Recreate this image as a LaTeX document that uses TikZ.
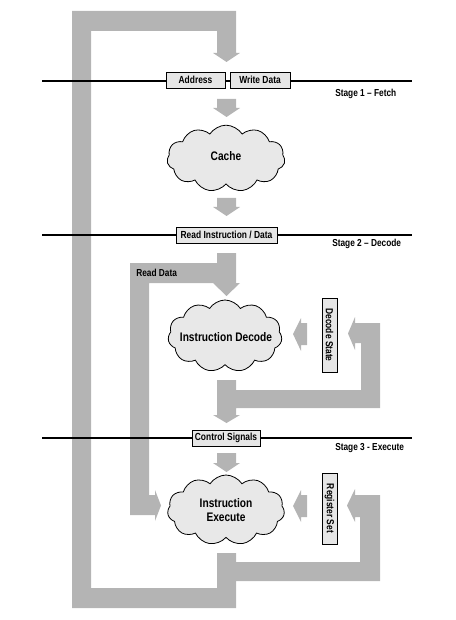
\documentclass[tikz,border=0pt]{standalone}
\usepackage{fontspec}
\newfontfamily\nar{Liberation Sans}[FakeStretch=0.82]
\usetikzlibrary{shapes.symbols}
\definecolor{bandgray}{RGB}{180,180,180}
\definecolor{boxfill}{RGB}{230,230,230}
\definecolor{cloudfill}{RGB}{232,232,232}
\begin{document}
\begin{tikzpicture}[x=0.75pt,y=-0.75pt,
  band/.style={fill=bandgray,draw=none},
  stageline/.style={line width=1.5pt,black},
  lbl/.style={draw=black,fill=boxfill,line width=0.6pt,inner sep=0pt,
    minimum height=12pt,font=\nar\bfseries\fontsize{7.7}{9}\selectfont},
  vlbl/.style={lbl,rotate=-90,minimum height=11.25pt},
  stagetxt/.style={anchor=west,inner sep=0pt,font=\nar\bfseries\fontsize{7.6}{9}\selectfont},
  cloudnode/.style={cloud,cloud puffs=11,cloud puff arc=115,cloud ignores aspect,
    draw=black,line width=0.6pt,fill=cloudfill,inner sep=0pt},
  cloudtxt/.style={inner sep=0pt,align=center,font=\nar\bfseries\fontsize{9.3}{10}\selectfont}]
\path[use as bounding box] (0,0) rectangle (456,620);

% outer loop (execute -> fetch)
\fill[band] (72,11) -- (236,11) -- (236,53) -- (240,53) -- (226.5,62) -- (213,53) -- (217,53)
  -- (217,31) -- (91,31) -- (91,588) -- (217,588) -- (217,553) -- (236,553) -- (236,608)
  -- (72,608) -- cycle;
% small down arrows
\fill[band] (217,99) -- (236,99) -- (236,108) -- (240,108) -- (226.5,117) -- (213,108) -- (217,108) -- cycle;
\fill[band] (217,198) -- (236,198) -- (236,207) -- (240,207) -- (226.5,216) -- (213,207) -- (217,207) -- cycle;
\fill[band] (217,453) -- (236,453) -- (236,463) -- (240,463) -- (226.5,472) -- (213,463) -- (217,463) -- cycle;
% read data band
\fill[band] (130,263) -- (217,263) -- (217,253) -- (236,253) -- (236,283) -- (240,283)
  -- (226.5,296) -- (213,283) -- (149,283) -- (149,495) -- (155,495) -- (155,490)
  -- (161,505.5) -- (155,521) -- (155,515) -- (130,515) -- cycle;
% decode loop
\fill[band] (217,380) -- (236,380) -- (236,390) -- (361,390) -- (361,343) -- (355,343)
  -- (355,350) -- (348,333.5) -- (355,317) -- (355,323) -- (380,323) -- (380,408)
  -- (236,408) -- (236,415) -- (240,415) -- (226.5,423) -- (213,415) -- (217,415) -- cycle;
% execute loop
\fill[band] (236,562) -- (360,562) -- (360,517) -- (355,517) -- (355,522) -- (347,505.5)
  -- (355,489) -- (355,495) -- (380,495) -- (380,581) -- (236,581) -- cycle;
% state arrows
\fill[band] (307,323) -- (301,323) -- (301,318) -- (293,334) -- (301,351) -- (301,345) -- (307,345) -- cycle;
\fill[band] (307,495) -- (301,495) -- (301,490) -- (293,506) -- (301,522) -- (301,517) -- (307,517) -- cycle;

% clouds
\node[cloudnode,minimum width=88.5pt,minimum height=50pt] (cache) at (226,158.5) {};
\node[cloudtxt] (cachet) at (226,156) {Cache};
\node[cloudnode,minimum width=85.5pt,minimum height=54pt] (idecode) at (225,336) {};
\node[cloudtxt] (idecodet) at (226,337) {Instruction Decode};
\node[cloudnode,minimum width=87.75pt,minimum height=52.5pt] (iexec) at (226,510) {};
\node[cloudtxt] (iexect) at (226,510) {Instruction\\Execute};

% stage lines
\coordinate (l1a) at (42,81); \coordinate (l1b) at (412,81);
\coordinate (l2a) at (42,235); \coordinate (l2b) at (412,235);
\coordinate (l3a) at (42,438); \coordinate (l3b) at (412,438);
\draw[stageline] (l1a) -- (l1b);
\draw[stageline] (l2a) -- (l2b);
\draw[stageline] (l3a) -- (l3b);

% boxes
\node[lbl,minimum width=44.25pt] (addr) at (195.5,80) {Address};
\node[lbl,minimum width=45pt] (wdata) at (260,80) {Write Data};
\node[lbl,minimum width=75.75pt] (rid) at (226.5,235) {Read Instruction / Data};
\node[lbl,minimum width=51pt] (ctrl) at (226,438) {Control Signals};
\node[vlbl,minimum width=55.5pt] (dstate) at (329.5,335) {Decode State};
\node[vlbl,minimum width=53.25pt] (regset) at (329.5,508.5) {Register Set};

% texts
\node[stagetxt] (s1) at (335,94) {Stage 1 – Fetch};
\node[stagetxt] (s2) at (332,244) {Stage 2 – Decode};
\node[stagetxt] (s3) at (335,448) {Stage 3 - Execute};
\node[stagetxt] (rd) at (136,273) {Read Data};
\end{tikzpicture}
\end{document}
